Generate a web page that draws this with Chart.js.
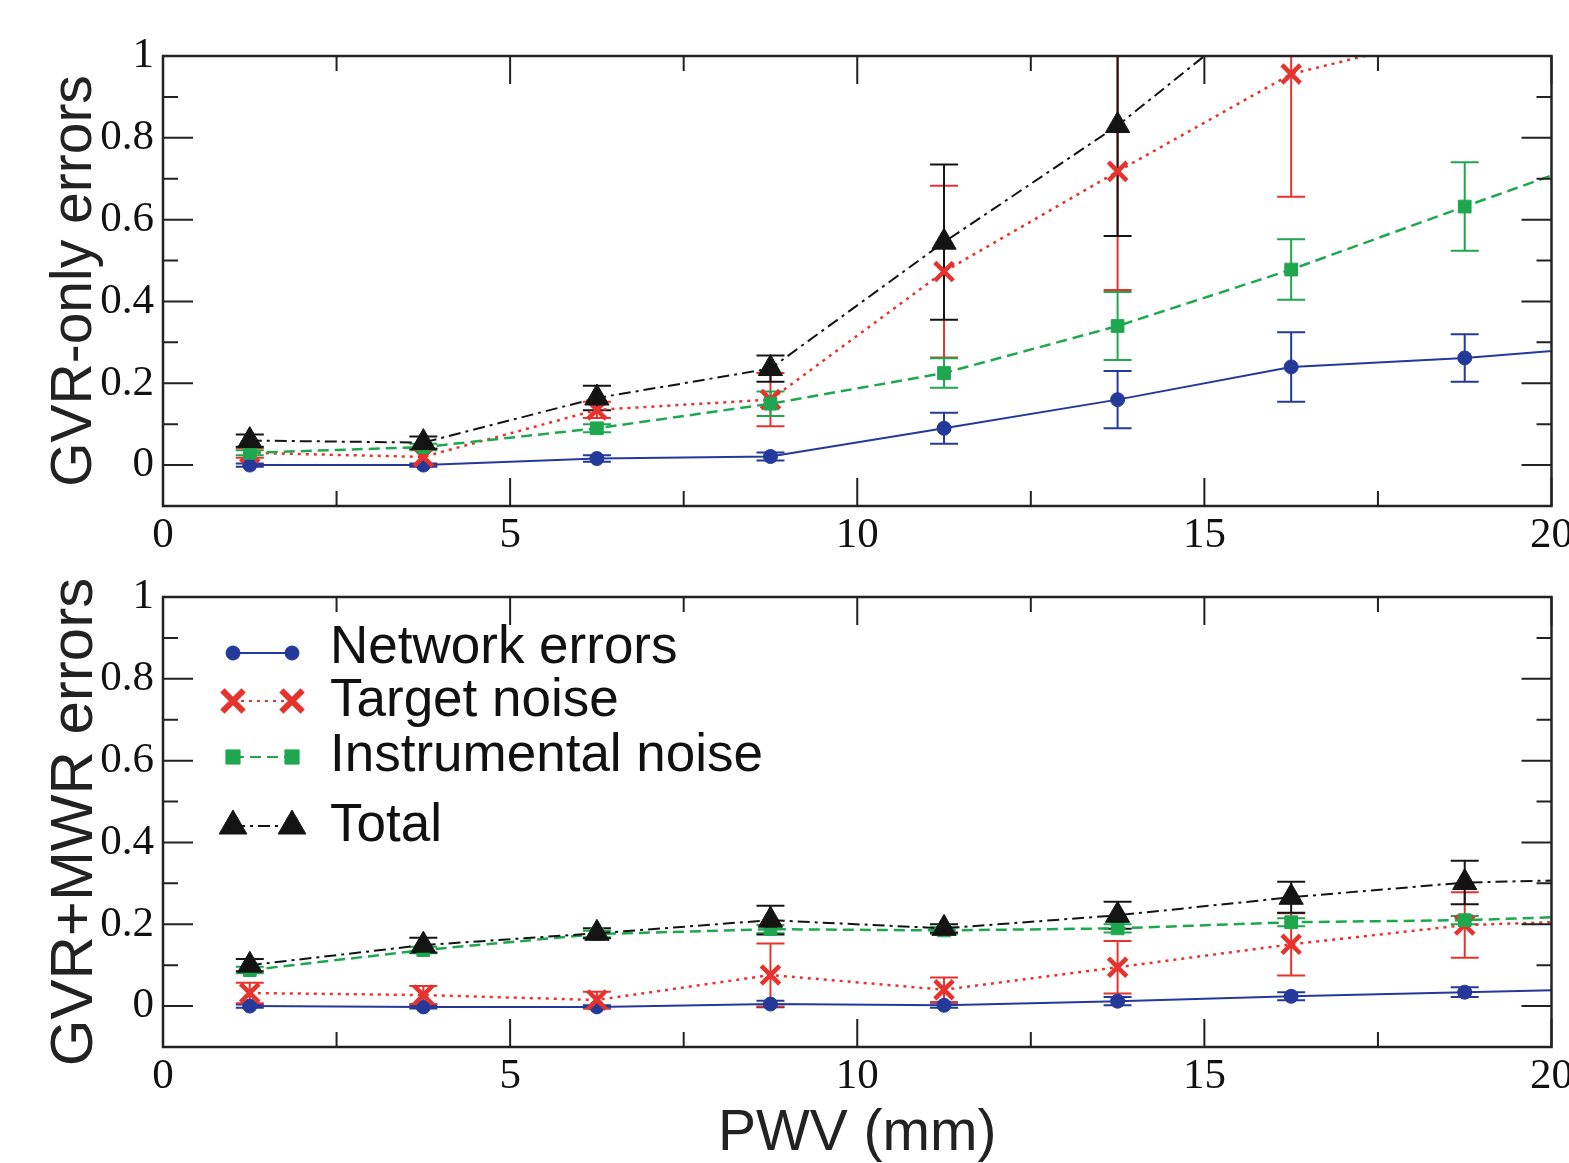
<!DOCTYPE html>
<html><head><meta charset="utf-8">
<script src="https://cdn.jsdelivr.net/npm/chart.js"></script>
<style>
html,body{margin:0;padding:0;background:#fff;overflow:hidden;width:1569px;height:1163px;}
canvas{position:absolute;left:0;}
#c1{top:0;}
#c2{top:560px;}
</style></head><body>
<canvas id="c1" width="1569" height="560"></canvas>
<canvas id="c2" width="1569" height="603"></canvas>
<script>
// ---------------- DATA ----------------
const pwv = [1.25, 3.75, 6.25, 8.75, 11.25, 13.75, 16.25, 18.75, 21.25];
const seriesLabels = ['Network errors', 'Target noise', 'Instrumental noise', 'Total'];
const xTickValues = [0, 5, 10, 15, 20];
const xMinorTickValues = [2.5, 7.5, 12.5, 17.5];
const yTickValues = [0, 0.2, 0.4, 0.6, 0.8, 1];
const yMinorTickValues = [0.1, 0.3, 0.5, 0.7, 0.9];

// Top panel: GVR-only errors
const gvrNetwork      = [0.0, 0.0, 0.016, 0.021, 0.09, 0.16, 0.24, 0.262, 0.296];
const gvrNetworkErr   = [0.004, 0.004, 0.008, 0.01, 0.038, 0.07, 0.085, 0.058, 0];
const gvrTarget       = [0.03, 0.02, 0.135, 0.16, 0.473, 0.718, 0.956, 1.06, 1.12];
const gvrTargetErr    = [0.012, 0.02, 0.02, 0.065, 0.21, 0.29, 0.3, 0.05, 0];
const gvrInstrument   = [0.03, 0.044, 0.09, 0.15, 0.225, 0.34, 0.478, 0.632, 0.784];
const gvrInstrumentErr= [0.006, 0.008, 0.01, 0.03, 0.036, 0.083, 0.074, 0.108, 0];
const gvrTotal        = [0.06, 0.055, 0.164, 0.236, 0.545, 0.83, 1.17, 1.35, 1.5];
const gvrTotalErr     = [0.015, 0.015, 0.03, 0.032, 0.19, 0.27, 0.15, 0.3, 0];

// Bottom panel: GVR+MWR errors
const mwrNetwork      = [0.0, -0.002, -0.002, 0.005, 0.002, 0.012, 0.024, 0.034, 0.043];
const mwrNetworkErr   = [0.004, 0.004, 0.004, 0.008, 0.006, 0.01, 0.01, 0.012, 0];
const mwrTarget       = [0.032, 0.027, 0.015, 0.076, 0.04, 0.095, 0.151, 0.198, 0.212];
const mwrTargetErr    = [0.025, 0.022, 0.02, 0.077, 0.03, 0.064, 0.076, 0.08, 0];
const mwrInstrument   = [0.088, 0.137, 0.176, 0.188, 0.185, 0.19, 0.205, 0.21, 0.224];
const mwrInstrumentErr= [0.008, 0.008, 0.008, 0.01, 0.008, 0.01, 0.01, 0.01, 0];
const mwrTotal        = [0.1, 0.149, 0.178, 0.21, 0.19, 0.222, 0.266, 0.302, 0.312];
const mwrTotalErr     = [0.015, 0.018, 0.012, 0.035, 0.01, 0.033, 0.038, 0.053, 0];

// ---------------- STYLE ----------------
const styles = [
  {color:'#24399a', dash:[], width:2, pointStyle:'circle', radius:7, pbw:1, lr:7, lbw:1},
  {color:'#e6332d', dash:[3,5], width:2.5, pointStyle:'crossRot', radius:13, pbw:4.5, lr:15, lbw:6},
  {color:'#1fa74f', dash:[11,6], width:2.5, pointStyle:'rect', radius:9, pbw:1, lr:10, lbw:1},
  {color:'#141414', dash:[12,5,3,5], width:2, pointStyle:'triangle', radius:14, pbw:1, lr:16, lbw:1}
];

function buildDatasets(vals, errs) {
  return vals.map((arr, k) => {
    const s = styles[k];
    return {
      label: seriesLabels[k],
      data: pwv.map((x, i) => ({x: x, y: arr[i]})),
      errors: errs[k],
      borderColor: s.color,
      backgroundColor: s.color,
      borderWidth: s.width,
      borderDash: s.dash,
      pointStyle: s.pointStyle,
      pointRadius: s.radius,
      pointBorderWidth: s.pbw,
      pointBackgroundColor: s.color,
      pointBorderColor: s.color,
      tension: 0,
      fill: false,
      order: 3 - k,
      legendRadius: s.lr,
      legendBorderWidth: s.lbw
    };
  });
}

const errorBarPlugin = {
  id: 'errorBars',
  beforeDatasetsDraw(chart) {
    const ctx = chart.ctx, xs = chart.scales.x, ys = chart.scales.y, a = chart.chartArea;
    ctx.save();
    ctx.beginPath(); ctx.rect(a.left, a.top, a.right - a.left, a.bottom - a.top); ctx.clip();
    chart.data.datasets.forEach(ds => {
      ds.data.forEach((p, i) => {
        const e = ds.errors[i];
        if (!e) return;
        const x = xs.getPixelForValue(p.x);
        const yl = ys.getPixelForValue(p.y - e), yh = ys.getPixelForValue(p.y + e);
        ctx.strokeStyle = ds.borderColor; ctx.lineWidth = 2; ctx.setLineDash([]);
        ctx.beginPath();
        ctx.moveTo(x, yl); ctx.lineTo(x, yh);
        ctx.moveTo(x - 14, yl); ctx.lineTo(x + 14, yl);
        ctx.moveTo(x - 14, yh); ctx.lineTo(x + 14, yh);
        ctx.stroke();
      });
    });
    ctx.restore();
  }
};

const framePlugin = {
  id: 'frame',
  afterDatasetsDraw(chart) {
    const ctx = chart.ctx, xs = chart.scales.x, ys = chart.scales.y, a = chart.chartArea;
    ctx.save();
    ctx.strokeStyle = '#222'; ctx.setLineDash([]);
    ctx.lineWidth = 2;
    ctx.beginPath();
    const tick = (vals, len, horiz) => {
      vals.forEach(v => {
        if (horiz) {
          const x = xs.getPixelForValue(v);
          ctx.moveTo(x, a.bottom); ctx.lineTo(x, a.bottom - len);
          ctx.moveTo(x, a.top); ctx.lineTo(x, a.top + len);
        } else {
          const y = ys.getPixelForValue(v);
          ctx.moveTo(a.left, y); ctx.lineTo(a.left + len, y);
          ctx.moveTo(a.right, y); ctx.lineTo(a.right - len, y);
        }
      });
    };
    tick(xTickValues, 28, true);
    tick(xMinorTickValues, 15, true);
    tick(yTickValues, 30, false);
    tick(yMinorTickValues, 15, false);
    ctx.stroke();
    ctx.lineWidth = 2.5;
    ctx.strokeRect(a.left, a.top, a.right - a.left, a.bottom - a.top);
    ctx.restore();
  }
};

const legendPlugin = {
  id: 'customLegend',
  afterDraw(chart, args, opts) {
    if (!opts.show) return;
    const ctx = chart.ctx;
    const rows = [93, 141, 197, 266];
    const textRows = [88, 141, 196, 266];
    const x1 = 233, x2 = 292, tx = 330;
    chart.data.datasets.forEach((ds, k) => {
      const y = rows[k];
      ctx.save();
      ctx.strokeStyle = ds.borderColor; ctx.lineWidth = 2;
      ctx.setLineDash(ds.borderDash || []);
      ctx.beginPath(); ctx.moveTo(x1, y); ctx.lineTo(x2, y); ctx.stroke();
      ctx.setLineDash([]);
      const po = {pointStyle: ds.pointStyle, radius: ds.legendRadius, borderWidth: ds.legendBorderWidth, rotation: 0};
      ctx.fillStyle = ds.borderColor; ctx.strokeStyle = ds.borderColor; ctx.lineWidth = ds.legendBorderWidth;
      Chart.helpers.drawPoint(ctx, po, x1, y);
      Chart.helpers.drawPoint(ctx, po, x2, y);
      ctx.fillStyle = '#111';
      ctx.font = '53px "Liberation Sans", Arial, sans-serif';
      ctx.textAlign = 'left'; ctx.textBaseline = 'middle';
      ctx.fillText(ds.label, tx, textRows[k]);
      ctx.restore();
    });
  }
};

function makeChart(id, datasets, yTitle, yTitleSize, showX, xAxisHeight, padTop, showLegend) {
  return new Chart(document.getElementById(id), {
    type: 'line',
    data: {datasets: datasets},
    plugins: [errorBarPlugin, framePlugin, legendPlugin],
    options: {
      responsive: false, animation: false, devicePixelRatio: 1,
      layout: {padding: {left: 0, top: padTop, right: 10, bottom: 0}},
      plugins: {legend: {display: false}, tooltip: {enabled: false}, customLegend: {show: showLegend}},
      scales: {
        x: {
          type: 'linear', min: 0, max: 20,
          grid: {display: false}, border: {display: false},
          afterBuildTicks: s => { s.ticks = xTickValues.map(v => ({value: v})); },
          afterFit: s => { s.height = xAxisHeight; s.paddingLeft = 0; s.paddingRight = 0; },
          ticks: {color: '#111', padding: -4, maxRotation: 0, autoSkip: false,
                  font: {family: '"Liberation Serif", "Times New Roman", serif', size: 43},
                  callback: v => String(v)},
          title: {display: showX, text: 'PWV (mm)', color: '#222',
                  font: {family: '"Liberation Sans", Arial, sans-serif', size: 57, lineHeight: 1},
                  padding: {top: 0, bottom: 0}}
        },
        y: {
          type: 'linear', min: -0.1, max: 1,
          grid: {display: false}, border: {display: false},
          afterBuildTicks: s => { s.ticks = yTickValues.map(v => ({value: v})); },
          afterFit: s => { s.width = 163; s.paddingTop = 0; s.paddingBottom = 0; },
          ticks: {color: '#111', padding: 1,
                  font: {family: '"Liberation Serif", "Times New Roman", serif', size: 43},
                  callback: v => String(Math.round(v * 10) / 10)},
          title: {display: true, text: yTitle, color: '#222',
                  font: {family: '"Liberation Sans", Arial, sans-serif', size: yTitleSize, lineHeight: 1},
                  padding: {top: 75 - yTitleSize / 2, bottom: 0}}
        }
      }
    }
  });
}

makeChart('c1',
  buildDatasets([gvrNetwork, gvrTarget, gvrInstrument, gvrTotal],
                [gvrNetworkErr, gvrTargetErr, gvrInstrumentErr, gvrTotalErr]),
  'GVR-only errors', 57, false, 54, 56, false);

makeChart('c2',
  buildDatasets([mwrNetwork, mwrTarget, mwrInstrument, mwrTotal],
                [mwrNetworkErr, mwrTargetErr, mwrInstrumentErr, mwrTotalErr]),
  'GVR+MWR errors', 60, true, 116, 37, true);
</script>
</body></html>
